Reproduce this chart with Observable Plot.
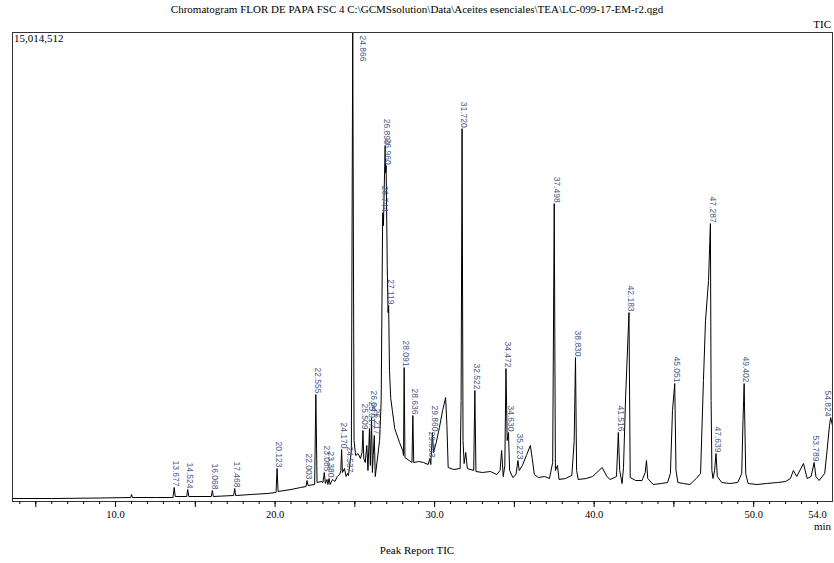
<!DOCTYPE html>
<html><head><meta charset="utf-8">
<script src="https://cdn.jsdelivr.net/npm/d3@7"></script>
<script src="https://cdn.jsdelivr.net/npm/@observablehq/plot@0.6"></script>
<style>
body{margin:0;background:#fff;}
#wrap{position:relative;width:834px;height:563px;font-family:"Liberation Serif","Times New Roman",serif;color:#000;overflow:hidden;}
#chart{position:absolute;left:0;top:0;}
.t{position:absolute;white-space:nowrap;font-size:11px;line-height:1;z-index:2;}
</style></head><body>
<div id="wrap">
<div id="chart"></div>
<div class="t" style="left:0;width:834px;text-align:center;top:4px;">Chromatogram FLOR DE PAPA FSC 4 C:\GCMSsolution\Data\Aceites esenciales\TEA\LC-099-17-EM-r2.qgd</div>
<div class="t" style="right:3px;top:19px;">TIC</div>
<div class="t" style="left:14px;top:33px;">15,014,512</div>
<div class="t" style="right:3px;top:521px;">min</div>
<div class="t" style="left:0;width:834px;text-align:center;top:545px;">Peak Report TIC</div>
</div>
<script>
// retention time (min)
const times = [
 3.54, 6.0, 9.0, 10.95, 11.0, 11.06, 12.5, 13.6, 13.677, 13.74,
 14.46, 14.524, 14.59, 16.0, 16.068, 16.13, 17.4, 17.468, 17.53, 18.5,
 19.5, 20.06, 20.123, 20.19, 21.0, 21.6, 21.94, 22.003, 22.07, 22.48,
 22.555, 22.63, 22.9, 23.0, 23.085, 23.15, 23.25, 23.31, 23.38, 23.45,
 23.6, 23.75, 23.9, 24.05, 24.12, 24.17, 24.22, 24.35, 24.45, 24.537,
 24.6, 24.7, 24.78, 24.866, 24.95, 25.05, 25.2, 25.35, 25.45, 25.509,
 25.56, 25.65, 25.75, 25.82, 25.917, 25.97, 26.047, 26.1, 26.15, 26.217,
 26.28, 26.4, 26.55, 26.65, 26.7, 26.744, 26.79, 26.899, 26.93, 26.96,
 27.03, 27.08, 27.119, 27.17, 27.25, 27.35, 27.5, 27.8, 28.0, 28.05,
 28.091, 28.14, 28.4, 28.58, 28.636, 28.69, 29.0, 29.3, 29.6, 29.693,
 29.76, 29.86, 29.93, 30.1, 30.3, 30.5, 30.69, 30.77, 30.85, 31.2,
 31.6, 31.66, 31.72, 31.78, 31.85, 31.95, 32.05, 32.45, 32.522, 32.59,
 33.0, 33.5, 33.9, 34.1, 34.2, 34.3, 34.4, 34.472, 34.55, 34.63,
 34.7, 34.9, 35.1, 35.223, 35.3, 35.5, 35.75, 36.0, 36.12, 36.25,
 36.5, 36.9, 37.2, 37.4, 37.498, 37.57, 37.7, 37.8, 38.2, 38.6,
 38.75, 38.83, 38.9, 39.0, 39.5, 39.9, 40.3, 40.5, 40.8, 41.0,
 41.4, 41.516, 41.6, 41.75, 41.84, 41.97, 42.183, 42.26, 42.6, 43.0,
 43.2, 43.28, 43.36, 43.7, 44.2, 44.6, 44.78, 44.91, 45.051, 45.13,
 45.25, 45.6, 46.0, 46.4, 46.67, 46.85, 46.98, 47.17, 47.287, 47.33,
 47.38, 47.45, 47.55, 47.639, 47.72, 48.0, 48.5, 49.0, 49.25, 49.33,
 49.402, 49.5, 49.65, 50.2, 50.8, 51.5, 52.0, 52.3, 52.49, 52.7,
 53.12, 53.35, 53.6, 53.789, 53.9, 54.1, 54.45, 54.6, 54.75, 54.824,
 54.94
];
// TIC intensity (counts)
const intensity = [
 96000, 96000, 112000, 128000, 224000, 128000, 128000, 128000, 448000, 160000,
 160000, 384000, 160000, 160000, 352000, 160000, 192000, 416000, 192000, 224000,
 256000, 288000, 1056000, 320000, 384000, 448000, 480000, 672000, 512000, 544000,
 3424000, 608000, 640000, 608000, 928000, 576000, 704000, 544000, 736000, 544000,
 704000, 640000, 800000, 864000, 992000, 1664000, 928000, 1056000, 800000, 896000,
 832000, 1248000, 1632000, 15014512, 1952000, 1472000, 1536000, 1376000, 1568000, 2272000,
 1376000, 1248000, 1792000, 992000, 2336000, 1152000, 2688000, 928000, 1472000, 2112000,
 800000, 1312000, 1952000, 3232000, 6432000, 9248000, 8832000, 11392000, 10528000, 10752000,
 7552000, 6048000, 6272000, 4192000, 3296000, 2912000, 2336000, 1888000, 1632000, 1472000,
 4288000, 1408000, 1312000, 1248000, 2752000, 1248000, 1280000, 1248000, 1184000, 1376000,
 1184000, 2208000, 1568000, 1888000, 2368000, 2912000, 3328000, 2432000, 1088000, 1024000,
 1056000, 3232000, 11936000, 1952000, 1216000, 1568000, 1056000, 992000, 3552000, 960000,
 928000, 960000, 864000, 992000, 1632000, 800000, 1152000, 4256000, 1952000, 2208000,
 992000, 768000, 864000, 1312000, 992000, 1152000, 1472000, 1792000, 1376000, 864000,
 768000, 800000, 736000, 1248000, 9536000, 992000, 1152000, 704000, 736000, 832000,
 1952000, 4608000, 992000, 704000, 736000, 800000, 992000, 1088000, 800000, 704000,
 800000, 2208000, 992000, 576000, 1088000, 3328000, 6048000, 768000, 672000, 672000,
 928000, 1312000, 736000, 544000, 576000, 608000, 896000, 2912000, 3776000, 992000,
 608000, 576000, 544000, 736000, 896000, 3872000, 5792000, 7072000, 8896000, 3232000,
 992000, 736000, 992000, 1536000, 800000, 608000, 576000, 608000, 896000, 2592000,
 3776000, 896000, 576000, 544000, 576000, 608000, 640000, 736000, 992000, 800000,
 1216000, 736000, 800000, 1248000, 800000, 672000, 896000, 1632000, 2432000, 2688000,
 2432000
];
// labelled peaks (retention times as printed)
const peakLabels = [
 "13.677","14.524","16.068","17.468","20.123","22.003","22.555","23.085","23.380",
 "24.170","24.537","24.866","25.509","25.917","26.047","26.217","26.744","26.899",
 "26.960","27.119","28.091","28.636","29.693","29.860","31.720","32.522","34.472",
 "34.630","35.223","37.498","38.830","41.516","42.183","45.051","47.287","47.639",
 "49.402","53.789","54.824"
];
const fullScale = 15014512;
const xDomain = [3.54, 54.94];
const minorTicks = d3.range(4, 55, 1);
const majorTicks = d3.range(5, 55, 5);
const tickLabels = [10, 20, 30, 40, 50, 54];

const trace = times.map((t, i) => ({t, v: intensity[i]}));
const peaks = peakLabels.map(s => {
  const t = +s; const i = times.indexOf(t);
  return {t, v: intensity[i], s};
});
const inner = peaks.filter(p => p.v < fullScale && p.t < 54.5);
const edge = peaks.filter(p => p.v < fullScale && p.t >= 54.5);
const offScale = peaks.filter(p => p.v >= fullScale).map(p => ({...p, v: fullScale}));

const labelStyle = {fontSize: 8.5, fill: "#4a5c8c", fontFamily: "Liberation Sans, Arial, sans-serif", rotate: 90, lineAnchor: "middle"};

const chart = Plot.plot({
  width: 834, height: 563,
  marginTop: 32, marginLeft: 12, marginRight: 2, marginBottom: 62,
  x: {domain: xDomain, label: null},
  y: {domain: [0, fullScale], axis: null},
  style: {background: "transparent", fontFamily: "Liberation Serif, Times New Roman, serif", fontSize: "10.5px", color: "#000"},
  marks: [
    Plot.line(trace, {x: "t", y: "v", stroke: "#000", strokeWidth: 1}),
    Plot.text(inner, {x: "t", y: "v", text: "s", textAnchor: "end", dx: 2, dy: -1, ...labelStyle}),
    Plot.text(edge, {x: "t", y: "v", text: "s", textAnchor: "end", dx: -3, dy: -1, ...labelStyle}),
    Plot.text(offScale, {x: "t", y: "v", text: "s", textAnchor: "start", dx: 10, dy: 3, ...labelStyle}),
    Plot.frame({stroke: "#333", strokeWidth: 1}),
    Plot.axisX({ticks: minorTicks, tickSize: 3, tickFormat: () => "", label: null}),
    Plot.axisX({ticks: majorTicks, tickSize: 6, tickFormat: () => "", label: null}),
    Plot.axisX({ticks: tickLabels, tickSize: 0, tickPadding: 9, tickFormat: d => d.toFixed(1), label: null, fontSize: 10.5})
  ]
});
document.getElementById("chart").appendChild(chart);
</script>
</body></html>
